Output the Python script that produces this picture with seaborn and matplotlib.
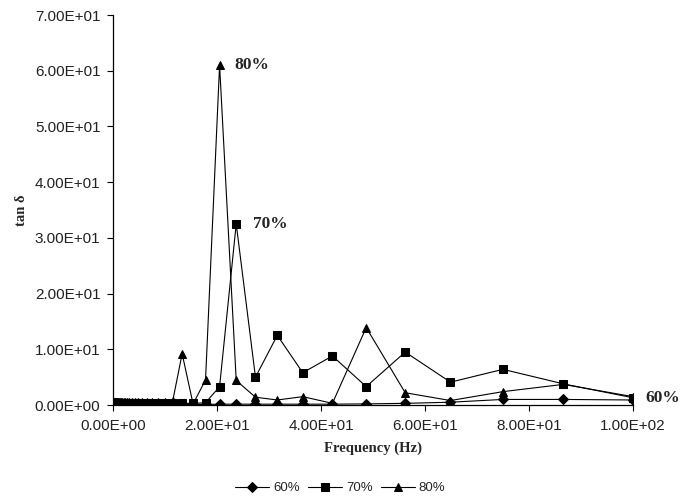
import matplotlib
matplotlib.use("Agg")
import matplotlib.pyplot as plt
import numpy as np
import pandas as pd
import seaborn as sns

# ------------------------------------------
# DATA
# ------------------------------------------

freq = [0.1, 0.115, 0.133, 0.154, 0.178, 0.205, 0.237, 0.274, 0.316, 0.365,
        0.422, 0.487, 0.562, 0.649, 0.75, 0.866, 1.0, 1.15, 1.33, 1.54,
        1.78, 2.05, 2.37, 2.74, 3.16, 3.65, 4.22, 4.87, 5.62, 6.49,
        7.5, 8.66, 10.0, 11.5, 13.3, 15.4, 17.8, 20.5, 23.7, 27.4,
        31.6, 36.5, 42.2, 48.7, 56.2, 64.9, 75.0, 86.6, 100.0]

tan_60 = [0.10, 0.10, 0.10, 0.10, 0.10, 0.10, 0.10, 0.10, 0.10, 0.10,
          0.10, 0.10, 0.10, 0.10, 0.10, 0.10, 0.10, 0.10, 0.10, 0.10,
          0.10, 0.10, 0.10, 0.10, 0.10, 0.10, 0.10, 0.10, 0.10, 0.10,
          0.10, 0.10, 0.10, 0.10, 0.10, 0.10, 0.10, 0.15, 0.15, 0.15,
          0.15, 0.15, 0.15, 0.20, 0.30, 0.50, 1.00, 1.00, 0.90]

tan_70 = [0.30, 0.30, 0.30, 0.30, 0.30, 0.30, 0.30, 0.30, 0.30, 0.30,
          0.30, 0.30, 0.30, 0.30, 0.30, 0.30, 0.30, 0.30, 0.30, 0.30,
          0.30, 0.30, 0.30, 0.30, 0.30, 0.30, 0.30, 0.30, 0.30, 0.30,
          0.30, 0.30, 0.30, 0.30, 0.30, 0.30, 0.40, 3.30, 32.5, 5.00,
          12.5, 5.80, 8.80, 3.30, 9.50, 4.10, 6.40, 3.80, 1.30]

tan_80 = [0.50, 0.50, 0.50, 0.50, 0.50, 0.50, 0.50, 0.50, 0.50, 0.50,
          0.50, 0.50, 0.50, 0.50, 0.50, 0.50, 0.50, 0.50, 0.50, 0.50,
          0.50, 0.50, 0.50, 0.50, 0.50, 0.50, 0.50, 0.50, 0.50, 0.50,
          0.50, 0.50, 0.50, 0.80, 9.20, 0.20, 4.50, 61.0, 4.40, 1.40,
          0.90, 1.50, 0.30, 13.9, 2.20, 0.80, 2.40, 3.70, 1.50]

series_names = ["60%", "70%", "80%"]
peak_labels = [("80%", 21.0, 61.0), ("70%", 24.5, 32.5), ("60%", 100.0, 1.2)]

df = pd.DataFrame({
    "freq": freq * 3,
    "tan": tan_60 + tan_70 + tan_80,
    "series": [s for s in series_names for _ in freq],
})

# ------------------------------------------
# PLOT
# ------------------------------------------

sns.set_style("white")
plt.rcParams["font.family"] = ["Liberation Sans", "DejaVu Sans"]

fig = plt.figure(figsize=(6.86, 4.97), dpi=100)
ax = fig.add_axes([0.1647, 0.1851, 0.758, 0.7847])

sns.lineplot(
    data=df, x="freq", y="tan",
    hue="series", style="series",
    palette=["black"] * 3,
    markers={"60%": "D", "70%": "s", "80%": "^"},
    dashes=False, sort=False,
    linewidth=0.8, markersize=5.5,
    markeredgecolor="black",
    ax=ax,
)

ax.set_xlim(0, 100)
ax.set_ylim(0, 70)
ax.set_xticks(np.arange(0, 101, 20))
ax.set_yticks(np.arange(0, 71, 10))
ax.xaxis.set_major_formatter(plt.FuncFormatter(lambda v, p: f"{v:.2E}"))
ax.yaxis.set_major_formatter(plt.FuncFormatter(lambda v, p: f"{v:.2E}"))
ax.tick_params(axis="both", direction="out", length=4, width=0.8,
               colors="black", labelsize=11, left=True, bottom=True)
ax.tick_params(axis="x", pad=6)
ax.tick_params(axis="y", pad=5)
for lbl in ax.get_xticklabels() + ax.get_yticklabels():
    lbl.set_color("#222222")

sns.despine(ax=ax)
for side in ["left", "bottom"]:
    ax.spines[side].set_color("black")
    ax.spines[side].set_linewidth(0.9)

serif = ["Liberation Serif", "DejaVu Serif"]
ax.set_xlabel("Frequency (Hz)", fontsize=10.5, fontweight="bold", family=serif,
              labelpad=6)
ax.set_ylabel("tan δ", fontsize=10.5, fontweight="bold", family=serif, labelpad=5)

for txt, fx, fy in peak_labels:
    ax.annotate(txt, (fx, fy), xytext=(9, 0), textcoords="offset points",
                ha="left", va="center", fontsize=12.5, fontweight="bold",
                family=serif, annotation_clip=False)

sns.move_legend(ax, "center", bbox_to_anchor=(0.437, -0.213), ncol=3,
                title=None, frameon=False, fontsize=9.5, handlelength=2.6,
                columnspacing=0.6, handletextpad=0.3)

plt.savefig("out.png", dpi=100)
plt.close()
